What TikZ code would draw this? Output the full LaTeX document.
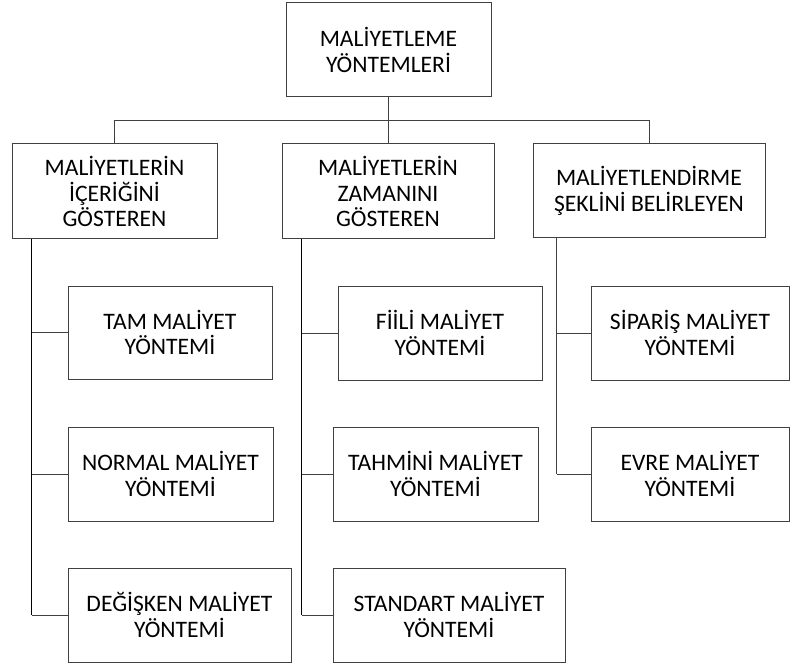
\documentclass[tikz,border=0pt]{standalone}
\usepackage{fontspec}
\setmainfont{Carlito}
\usetikzlibrary{calc}
\begin{document}
\begin{tikzpicture}[x=1pt,y=-1pt,
  box/.style={draw=black!75,line width=1pt,rectangle,align=center,inner sep=0pt,
    font=\fontsize{23.6}{25.5}\selectfont},
  link/.style={draw=black!75,line width=1pt},
  trunk/.style={draw=black,line width=1.6pt}]
\useasboundingbox (0,0) rectangle (790,663);
\node[box,minimum width=205,minimum height=94] (top) at (388.5,50) {MALİYETLEME\\YÖNTEMLERİ};
\node[box,minimum width=205,minimum height=95] (L1) at (114.5,191.5) {MALİYETLERİN\\İÇERİĞİNİ\\GÖSTEREN};
\node[box,minimum width=212,minimum height=95] (M1) at (388,191.5) {MALİYETLERİN\\ZAMANINI\\GÖSTEREN};
\node[box,minimum width=232,minimum height=94] (R1) at (649,191) {MALİYETLENDİRME\\ŞEKLİNİ BELİRLEYEN};
\node[box,minimum width=204,minimum height=93] (tam) at (170,332.5) {TAM MALİYET\\YÖNTEMİ};
\node[box,minimum width=205,minimum height=94] (normal) at (170.5,474) {NORMAL MALİYET\\YÖNTEMİ};
\node[box,minimum width=223,minimum height=94] (deg) at (179.5,615) {DEĞİŞKEN MALİYET\\YÖNTEMİ};
\node[box,minimum width=204,minimum height=94] (fiili) at (440,333) {FİİLİ MALİYET\\YÖNTEMİ};
\node[box,minimum width=205,minimum height=94] (tahmini) at (435.5,474) {TAHMİNİ MALİYET\\YÖNTEMİ};
\node[box,minimum width=232,minimum height=94] (standart) at (449,615) {STANDART MALİYET\\YÖNTEMİ};
\node[box,minimum width=198,minimum height=94] (siparis) at (690,333) {SİPARİŞ MALİYET\\YÖNTEMİ};
\node[box,minimum width=198,minimum height=94] (evre) at (690,474) {EVRE MALİYET\\YÖNTEMİ};
% bus
\coordinate (bus) at (388.5,121);
\draw[link] (top.south) -- (bus);
\draw[link] (L1.north) -- (L1.north |- bus) -- (R1.north |- bus) -- (R1.north);
\draw[link] (M1.north) -- (M1.north |- bus);
% trunks
\coordinate (lt) at ($(L1.south west)+(20,0)$);
\coordinate (mt) at ($(M1.south west)+(20,0)$);
\coordinate (rt) at ($(R1.south west)+(24,0)$);
\draw[trunk] (lt) -- (lt |- deg.west);
\draw[trunk] (mt) -- (mt |- standart.west);
\draw[link] (rt) -- (rt |- evre.west);
\draw[link] (lt |- tam.west) -- (tam.west);
\draw[link] (lt |- normal.west) -- (normal.west);
\draw[link] (lt |- deg.west) -- (deg.west);
\draw[link] (mt |- fiili.west) -- (fiili.west);
\draw[link] (mt |- tahmini.west) -- (tahmini.west);
\draw[link] (mt |- standart.west) -- (standart.west);
\draw[link] (rt |- siparis.west) -- (siparis.west);
\draw[link] (rt |- evre.west) -- (evre.west);
\end{tikzpicture}
\end{document}
